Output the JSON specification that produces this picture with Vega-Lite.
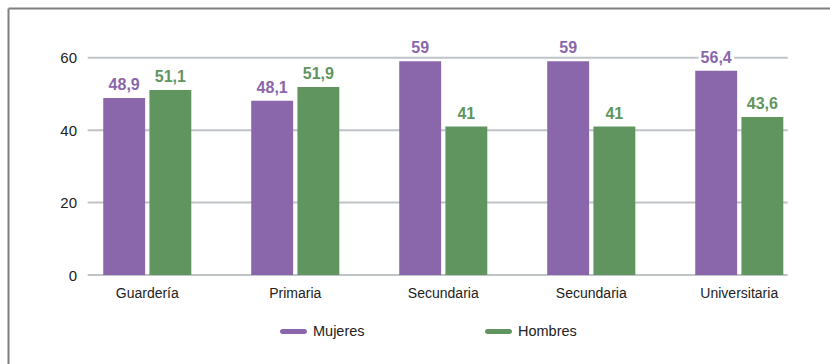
{
  "$schema": "https://vega.github.io/schema/vega-lite/v6.json",
  "autosize": "none",
  "width": 822,
  "height": 356,
  "padding": {"left": 8, "top": 8, "right": 0, "bottom": 0},
  "background": "white",
  "config": {
    "font": "Liberation Sans",
    "view": {"stroke": null},
    "locale": {"number": {"decimal": ",", "thousands": ".", "grouping": [3], "currency": ["", " €"]}}
  },
  "datasets": {
    "valores": [
      {"nivel": "Guardería", "sexo": "Mujeres", "valor": 48.9},
      {"nivel": "Guardería", "sexo": "Hombres", "valor": 51.1},
      {"nivel": "Primaria", "sexo": "Mujeres", "valor": 48.1},
      {"nivel": "Primaria", "sexo": "Hombres", "valor": 51.9},
      {"nivel": "Secundaria", "sexo": "Mujeres", "valor": 59},
      {"nivel": "Secundaria", "sexo": "Hombres", "valor": 41},
      {"nivel": "Secundaria ", "sexo": "Mujeres", "valor": 59},
      {"nivel": "Secundaria ", "sexo": "Hombres", "valor": 41},
      {"nivel": "Universitaria", "sexo": "Mujeres", "valor": 56.4},
      {"nivel": "Universitaria", "sexo": "Hombres", "valor": 43.6}
    ],
    "rejilla": [{"tick": 0}, {"tick": 20}, {"tick": 40}, {"tick": 60}]
  },
  "layer": [
    {
      "data": {"name": "rejilla"},
      "mark": {"type": "rule", "color": "#bfc3c8", "strokeWidth": 2},
      "encoding": {
        "x": {"datum": "Guardería", "bandPosition": -0.1765, "type": "nominal", "scale": {"domain": ["Guardería", "Primaria", "Secundaria", "Secundaria ", "Universitaria"], "paddingInner": 0.405, "paddingOuter": 0.4795, "align": 0.671}, "axis": {"orient": "top", "title": null, "domainColor": "#7f7f7f", "domainWidth": 2, "ticks": false, "tickSize": 0, "labelPadding": -285, "labelBaseline": "middle", "labelFontSize": 14, "labelColor": "#222222", "labelAngle": 0, "labelExpr": "trim(datum.label)", "grid": false}},
        "x2": {"datum": "Universitaria", "bandPosition": 1.05},
        "y": {"field": "tick", "type": "quantitative", "scale": {"domain": [-24.57, 73.72], "nice": false, "zero": false}, "axis": {"orient": "left", "title": null, "values": [0, 20, 40, 60], "domainColor": "#7f7f7f", "domainWidth": 2, "ticks": false, "tickSize": 0, "labelPadding": -68.5, "labelAlign": "right", "labelFontSize": 15, "labelColor": "#222222", "grid": false}}
      }
    },
    {
      "data": {"name": "valores"},
      "mark": {"type": "bar"},
      "encoding": {
        "x": {"field": "nivel", "type": "nominal"},
        "xOffset": {"field": "sexo", "type": "nominal", "sort": ["Mujeres", "Hombres"], "scale": {"paddingInner": 0.093, "paddingOuter": 0}},
        "y": {"field": "valor", "type": "quantitative"},
        "y2": {"datum": 0},
        "color": {"field": "sexo", "type": "nominal", "sort": ["Mujeres", "Hombres"], "scale": {"domain": ["Mujeres", "Hombres"], "range": ["#8a66ab", "#60955f"]},
          "legend": {"title": null, "orient": "none", "legendX": 272, "legendY": 310, "direction": "horizontal", "symbolType": "M-0.815,-0.185 L0.815,-0.185 A0.185,0.185 0 0 1 0.815,0.185 L-0.815,0.185 A0.185,0.185 0 0 1 -0.815,-0.185 Z", "symbolSize": 729, "symbolStrokeWidth": 0, "labelFontSize": 14.5, "labelColor": "#222222", "labelOffset": 6, "columnPadding": 120, "padding": 0}}
      }
    },
    {
      "data": {"name": "valores"},
      "mark": {"type": "text", "dy": -8, "baseline": "alphabetic", "fontSize": 16, "fontWeight": "bold", "stroke": "white", "strokeWidth": 5, "fill": "white"},
      "encoding": {
        "x": {"field": "nivel", "type": "nominal"},
        "xOffset": {"field": "sexo", "type": "nominal", "sort": ["Mujeres", "Hombres"]},
        "y": {"field": "valor", "type": "quantitative"},
        "text": {"field": "valor", "type": "quantitative", "format": "~g"}
      }
    },
    {
      "data": {"name": "valores"},
      "mark": {"type": "text", "dy": -8, "baseline": "alphabetic", "fontSize": 16, "fontWeight": "bold"},
      "encoding": {
        "x": {"field": "nivel", "type": "nominal"},
        "xOffset": {"field": "sexo", "type": "nominal", "sort": ["Mujeres", "Hombres"]},
        "y": {"field": "valor", "type": "quantitative"},
        "text": {"field": "valor", "type": "quantitative", "format": "~g"},
        "color": {"field": "sexo", "type": "nominal", "legend": null, "scale": {"domain": ["Mujeres", "Hombres"], "range": ["#8a66ab", "#60955f"]}}
      }
    }
  ]
}
